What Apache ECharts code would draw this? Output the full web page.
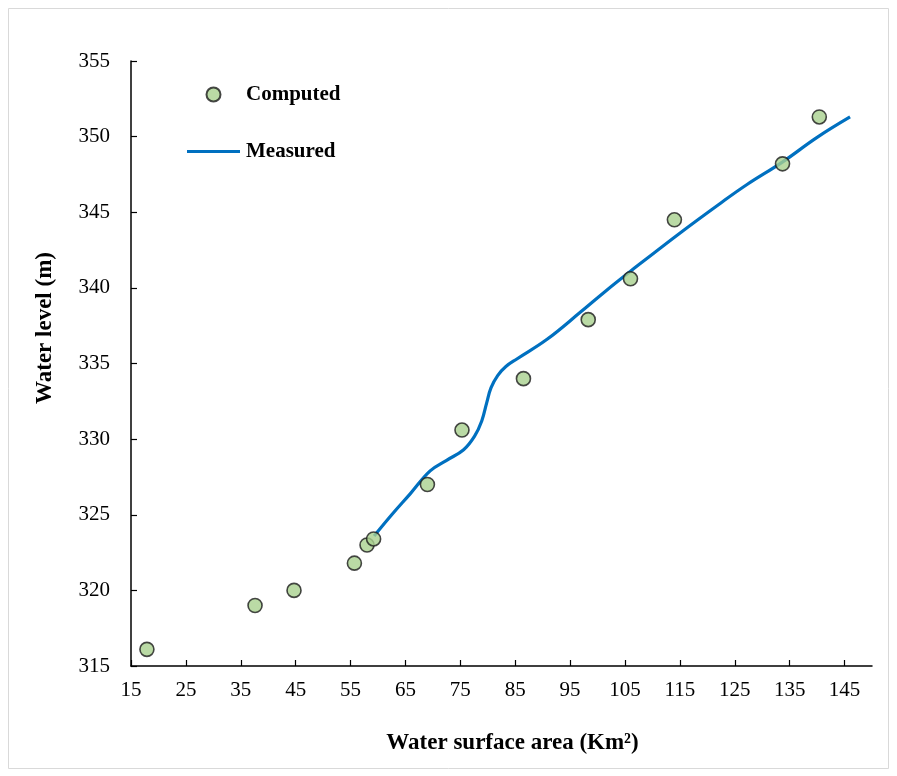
<!DOCTYPE html>
<html>
<head>
    <meta charset="UTF-8">
    <title>Water level vs surface area</title>
    <script src="https://cdn.jsdelivr.net/npm/echarts@6/dist/echarts.min.js"></script>
    <style>
        html, body { margin: 0; padding: 0; background: #fff; }
        #chart { width: 897px; height: 776px; }
    </style>
</head>
<body>
    <div id="chart"></div>
    <script>
        // computed points: area (km2) and level (m)
        const computedArea  = [17.9, 37.6, 44.7, 55.7, 58.0, 59.2, 69.0, 75.3, 86.5, 98.3, 106.0, 114.0, 133.7, 140.4];
        const computedLevel = [316.1, 319.0, 320.0, 321.8, 323.0, 323.4, 327.0, 330.6, 334.0, 337.9, 340.6, 344.5, 348.2, 351.3];

        // measured curve
        const measuredArea  = [59.3, 62.5, 65.9, 69.5, 72.5, 75.6, 77.6, 78.9, 79.8, 80.6, 81.8, 83.3, 85.3, 90.8, 96.9, 101.5, 106.0, 115.1, 122.4, 127.3, 133.6, 140.0, 146.0];
        const measuredLevel = [323.6, 325.0, 326.4, 327.9, 328.6, 329.3, 330.2, 331.2, 332.4, 333.4, 334.2, 334.8, 335.3, 336.6, 338.4, 339.8, 341.1, 343.65, 345.6, 346.85, 348.3, 349.95, 351.3];

        const xTicks = { min: 15, max: 150, interval: 10 };
        const yTicks = { min: 315, max: 355, interval: 5 };

        const chart = echarts.init(document.getElementById('chart'));
        const serif = 'Liberation Serif';

        const option = {
            backgroundColor: '#fff',
            animation: false,
            textStyle: { fontFamily: serif },
            grid: { left: 131, top: 61, right: 25, bottom: 110, containLabel: false },
            legend: {
                orient: 'vertical',
                left: 182,
                top: 79,
                itemWidth: 53,
                itemHeight: 14,
                itemGap: 36,
                textStyle: { fontFamily: serif, fontSize: 21, fontWeight: 'bold', color: '#000', padding: [0, 0, 0, 1] },
                data: [
                    { name: 'Computed', icon: 'circle' },
                    { name: 'Measured', icon: 'path://M0,0H53V3H0Z', itemStyle: { color: '#0070C0', borderWidth: 0 } }
                ]
            },
            xAxis: {
                type: 'value',
                min: xTicks.min, max: xTicks.max, interval: xTicks.interval,
                name: 'Water surface area (Km²)',
                nameLocation: 'middle',
                nameGap: 66,
                nameTextStyle: { fontFamily: serif, fontSize: 23, fontWeight: 'bold', color: '#000', padding: [0, 0, 0, 22] },
                axisLine: { lineStyle: { color: '#000', width: 1.5 } },
                axisTick: { inside: true, length: 6, lineStyle: { color: '#000', width: 1.2 } },
                axisLabel: { showMaxLabel: false, margin: 14, fontFamily: serif, fontSize: 21, color: '#000' },
                splitLine: { show: false }
            },
            yAxis: {
                type: 'value',
                min: yTicks.min, max: yTicks.max, interval: yTicks.interval,
                axisLine: { show: true, lineStyle: { color: '#000', width: 1.5 } },
                axisTick: { show: true, inside: true, length: 6, lineStyle: { color: '#000', width: 1.2 } },
                axisLabel: { margin: 21, fontFamily: serif, fontSize: 21, color: '#000' },
                splitLine: { show: false }
            },
            graphic: [
                {
                    type: 'rect',
                    silent: true,
                    shape: { x: 8.5, y: 8.5, width: 880, height: 760 },
                    style: { fill: 'none', stroke: '#d9d9d9', lineWidth: 1 }
                },
                {
                    type: 'text',
                    silent: true,
                    x: 45,
                    y: 328,
                    rotation: Math.PI / 2,
                    style: {
                        text: 'Water level (m)',
                        fontFamily: serif,
                        fontSize: 23,
                        fontWeight: 'bold',
                        fill: '#000',
                        align: 'center',
                        verticalAlign: 'middle'
                    }
                }
            ],
            series: [
                {
                    name: 'Measured',
                    type: 'line',
                    smooth: 0.4,
                    symbol: 'none',
                    z: 2,
                    lineStyle: { color: '#0070C0', width: 3.2 },
                    itemStyle: { color: '#0070C0' },
                    data: measuredArea.map((a, i) => [a, measuredLevel[i]])
                },
                {
                    name: 'Computed',
                    type: 'scatter',
                    symbol: 'circle',
                    symbolSize: 14,
                    z: 3,
                    itemStyle: { color: '#A9D18E', borderColor: '#1a1a1a', borderWidth: 1.6 },
                    data: computedArea.map((a, i) => [a, computedLevel[i]])
                }
            ]
        };

        chart.setOption(option);
    </script>
</body>
</html>
